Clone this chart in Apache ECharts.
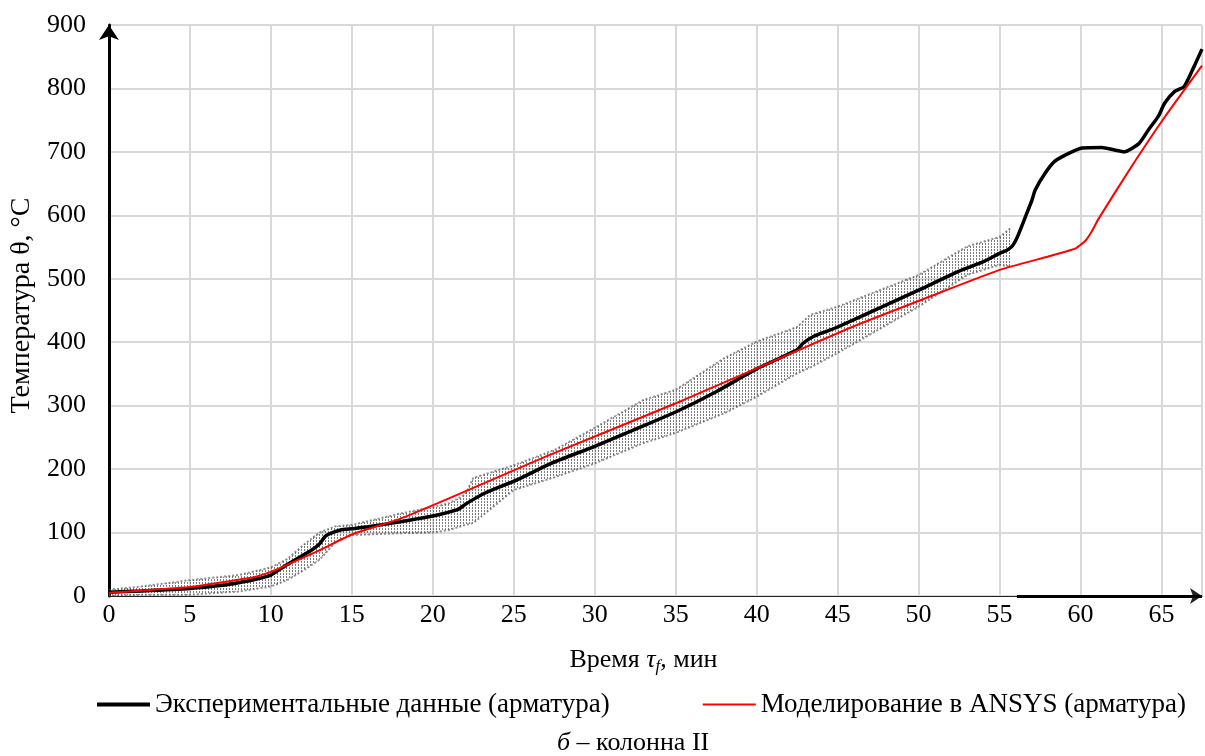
<!DOCTYPE html>
<html>
<head>
<meta charset="utf-8">
<script src="https://cdn.jsdelivr.net/npm/echarts@6/dist/echarts.min.js"></script>
<style>
html,body{margin:0;padding:0;background:#fff;}
#chart{width:1205px;height:756px;}
</style>
</head>
<body>
<div id="chart"></div>
<script>
// ---- data ----
const xTicks = [0, 5, 10, 15, 20, 25, 30, 35, 40, 45, 50, 55, 60, 65];
const yTicks = [0, 100, 200, 300, 400, 500, 600, 700, 800, 900];

const expX = [0, 2, 5, 7, 8, 9, 10, 10.85, 11.7, 12.5, 13.0, 13.4, 14.3, 15, 16, 18, 19.1, 20, 21.1, 21.6, 22.1, 23.2, 25.2, 27.3, 30, 33, 35, 37.5, 40, 42.5, 42.85, 43.5, 44.3, 45, 47.5, 50, 52.5, 54, 55, 55.45, 55.8, 56.1, 56.6, 57.0, 57.2, 57.8, 58.4, 59.3, 60.1, 61.3, 62.1, 62.7, 63.6, 64.2, 64.8, 65.2, 65.8, 66.4, 67.0, 67.5];
const expY = [6, 8, 12, 17, 21, 26, 33, 47, 60, 72, 82, 95, 104, 106, 109, 117, 122, 126, 133, 137, 146, 162, 183, 209, 236, 268, 290, 322, 358, 388, 398, 409, 417, 424, 453, 482, 512, 527, 540, 545, 552, 566, 598, 624, 640, 666, 685, 698, 706, 707, 703, 700, 713, 735, 756, 777, 795, 803, 834, 862];

const modX = [0, 5, 9, 10, 11, 13, 15, 18, 21, 27, 35.5, 45.7, 50.2, 55, 58, 59.1, 59.7, 60.3, 60.7, 61.1, 63.1, 65.2, 67.5];
const modY = [5, 14, 30, 38, 49, 72, 97, 122, 154, 220, 309, 422, 467, 514, 535, 543, 548, 560, 575, 594, 675, 755, 836];

const bandX     = [0, 2, 5, 8, 10, 11, 12, 13, 14, 15, 18, 20, 21, 22, 22.5, 25, 27.5, 30, 33, 35, 38, 40, 42.5, 43.3, 45, 50, 53, 55, 55.7];
const bandUpper = [10, 15, 25, 33, 45, 58, 80, 100, 110, 112, 130, 140, 146, 160, 186, 206, 230, 265, 309, 325, 375, 401, 424, 443, 456, 506, 551, 566, 580];
const bandLower = [0, 2, 2, 7, 15, 25, 40, 57, 85, 96, 99, 100, 104, 112, 115, 167, 187, 209, 241, 257, 288, 314, 351, 360, 383, 456, 506, 522, 519];

const axisArrowFrom = 56.07;

// ---- chart ----
const FONT = 'Liberation Serif';
const zip = (a, b) => a.map((v, i) => [v, b[i]]);

const pc = document.createElement('canvas');
pc.width = 3; pc.height = 3;
const pctx = pc.getContext('2d');
pctx.fillStyle = 'rgba(90,90,90,0.8)';
pctx.fillRect(1, 0, 1, 2);

const chart = echarts.init(document.getElementById('chart'), null, {renderer: 'canvas'});

function renderBand(params, api) {
  if (params.dataIndex !== 0) return null;
  const up = bandX.map((x, i) => api.coord([x, bandUpper[i]]));
  const lo = bandX.map((x, i) => api.coord([x, bandLower[i]]));
  const poly = up.concat(lo.slice().reverse());
  const edge = {stroke: 'rgba(70,70,70,0.6)', lineWidth: 2, lineDash: [2, 2], fill: null};
  return {
    type: 'group',
    children: [
      {type: 'polygon', shape: {points: poly}, style: {fill: {image: pc, repeat: 'repeat'}}},
      {type: 'polyline', shape: {points: up}, style: edge},
      {type: 'polyline', shape: {points: lo}, style: edge}
    ]
  };
}

const option = {
  animation: false,
  backgroundColor: '#fff',
  textStyle: {fontFamily: FONT, color: '#000'},
  grid: {left: 107, right: 1, top: 25, bottom: 160, containLabel: false},
  title: {
    text: '{i|б} – колонна II',
    left: 552, top: 725,
    textStyle: {
      fontFamily: FONT, fontSize: 26, fontWeight: 'normal', color: '#000',
      rich: {i: {fontFamily: FONT, fontSize: 26, fontStyle: 'italic', color: '#000'}}
    }
  },
  legend: {
    data: [
      {name: 'Экспериментальные данные (арматура)', icon: 'rect'},
      {name: 'Моделирование в ANSYS (арматура)', icon: 'path://M0,0h53v0.01h-53zM0,1h53v2h-53zM0,3.99h53v0.01h-53z'}
    ],
    left: 92, top: 686,
    itemWidth: 53, itemHeight: 4, itemGap: 93,
    textStyle: {fontFamily: FONT, fontSize: 27, color: '#000'}
  },
  xAxis: {
    type: 'value', min: 0, max: 67.5, interval: 5,
    name: 'Время {i|τ}{s|f}, мин',
    nameLocation: 'middle', nameGap: 50,
    nameTextStyle: {
      fontFamily: FONT, fontSize: 26, color: '#000', padding: [0, 24, 0, 0],
      rich: {
        i: {fontFamily: FONT, fontSize: 26, fontStyle: 'italic', color: '#000'},
        s: {fontFamily: FONT, fontSize: 17, fontStyle: 'italic', color: '#000', padding: [12, 0, 0, 0]}
      }
    },
    axisLine: {show: true, lineStyle: {color: '#222', width: 1.2}, symbol: ['none', 'arrow'], symbolSize: [12, 12], symbolOffset: [0, 0]},
    axisTick: {show: false},
    axisLabel: {
      fontFamily: FONT, fontSize: 26, color: '#000', margin: 6,
      formatter: v => xTicks.includes(v) ? String(v) : ''
    },
    splitLine: {show: true, lineStyle: {color: '#d9d9d9', width: 2}}
  },
  yAxis: {
    type: 'value', min: 0, max: 900, interval: 100,
    name: 'Температура θ, °C',
    nameLocation: 'middle', nameGap: 72,
    nameTextStyle: {fontFamily: FONT, fontSize: 28, color: '#000', padding: [0, 0, 0, 10]},
    axisLine: {show: true, lineStyle: {color: '#000', width: 3}, symbol: ['none', 'arrow'], symbolSize: [15, 15], symbolOffset: [0, 0]},
    axisTick: {show: false},
    axisLabel: {fontFamily: FONT, fontSize: 26, color: '#000', margin: 23,
      formatter: v => yTicks.includes(v) ? String(v) : ''},
    splitLine: {show: true, lineStyle: {color: '#d9d9d9', width: 2}}
  },
  series: [
    {
      name: 'band', type: 'custom', silent: true, clip: true,
      renderItem: renderBand,
      data: bandX.map((x, i) => [x, bandLower[i], bandUpper[i]]),
      encode: {x: 0, y: [1, 2]},
      z: 1
    },
    {
      name: 'Экспериментальные данные (арматура)', type: 'line', symbol: 'none',
      data: zip(expX, expY), smooth: 0.2,
      lineStyle: {color: '#000', width: 3.5}, itemStyle: {color: '#000'},
      z: 3
    },
    {
      name: 'Моделирование в ANSYS (арматура)', type: 'line', symbol: 'none',
      data: zip(modX, modY), smooth: 0.15,
      lineStyle: {color: '#ff0000', width: 2}, itemStyle: {color: '#ff0000'},
      z: 4,
      markLine: {
        silent: true, symbol: ['none', 'none'], label: {show: false},
        lineStyle: {color: '#000', width: 3, type: 'solid'},
        data: [[{coord: [axisArrowFrom, 0]}, {coord: [67.5, 0]}]]
      }
    }
  ]
};
chart.setOption(option);
</script>
</body>
</html>
